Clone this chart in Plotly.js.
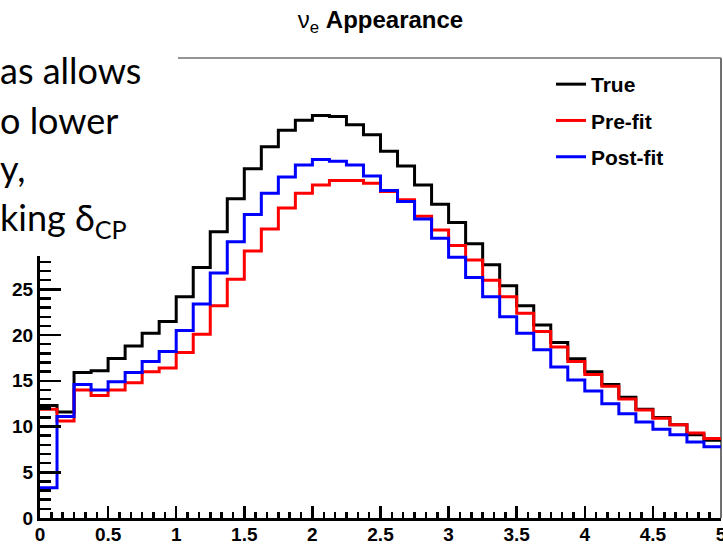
<!DOCTYPE html>
<html>
<head>
<meta charset="utf-8">
<script src="https://cdn.plot.ly/plotly-3.0.1.min.js"></script>
<style>html,body{margin:0;padding:0;background:#fff;}#chart{width:723px;height:545px;}</style>
</head>
<body>
<div id="chart"></div>
<script>
// Histogram: 40 bins of width 0.125 from 0 to 5
const binLow = 0;
const binWidth = 0.125;
const nBins = 40;

const seriesNames = ["True", "Pre-fit", "Post-fit"];
const seriesColors = ["#000000", "#ff0000", "#0000ff"];

const trueVals = [12.3, 11.6, 15.9, 16.1, 17.45, 18.8, 20.2, 21.5, 24.2, 27.4,
                  31.3, 34.9, 38.2, 40.6, 42.4, 43.5, 44.0, 43.9, 43.0, 41.9,
                  40.1, 38.5, 36.4, 34.3, 32.3, 30.0, 27.7, 25.4, 23.2, 21.1,
                  19.2, 17.4, 16.0, 14.6, 13.2, 11.9, 11.0, 10.2, 9.1, 8.5];
const prefitVals = [11.9, 10.6, 14.0, 13.4, 14.0, 14.8, 16.0, 16.4, 18.1, 20.1,
                    23.2, 26.1, 29.2, 31.6, 33.9, 35.5, 36.4, 36.9, 36.9, 36.6,
                    35.7, 34.8, 33.0, 31.5, 29.8, 28.2, 26.0, 24.2, 22.4, 20.4,
                    18.7, 17.1, 15.7, 14.4, 13.0, 11.8, 10.9, 10.2, 9.3, 8.7];
const postfitVals = [3.3, 11.1, 14.6, 14.0, 14.9, 15.9, 17.1, 18.2, 20.5, 23.4,
                     26.8, 30.2, 33.2, 35.5, 37.3, 38.6, 39.2, 39.0, 38.6, 37.4,
                     35.8, 34.6, 32.7, 30.6, 28.5, 26.3, 24.2, 22.0, 20.2, 18.4,
                     16.5, 15.1, 13.9, 12.5, 11.4, 10.5, 9.7, 9.1, 8.3, 7.8];

const xTickVals = [0, 0.5, 1, 1.5, 2, 2.5, 3, 3.5, 4, 4.5, 5];
const xTickText = ["0", "0.5", "1", "1.5", "2", "2.5", "3", "3.5", "4", "4.5", "5"];
// labels above 25 are hidden behind the slide text box in the reference
const yTickVals = [0, 5, 10, 15, 20, 25, 30, 35, 40, 45, 50];
const yTickText = ["0", "5", "10", "15", "20", "25", "", "", "", "", ""];

const titleText = "ν<sub>e</sub> <b>Appearance</b>";
const overlayLines = ["as allows", "o lower", "y,", "king δ<sub>CP</sub>"];

// bin edges
const edges = [];
for (let i = 0; i <= nBins; i++) edges.push(binLow + i * binWidth);

function stepTrace(vals, name, color, group) {
  return {
    type: "scatter", mode: "lines",
    x: edges, y: vals.concat([vals[vals.length - 1]]),
    line: {shape: "hv", color: color, width: 3},
    name: name, legendgroup: group
  };
}
const data = [
  stepTrace(trueVals, seriesNames[0], seriesColors[0], "g1"),
  stepTrace(prefitVals, seriesNames[1], seriesColors[1], "g2"),
  stepTrace(postfitVals, seriesNames[2], seriesColors[2], "g3")
];

const L = 40, R = 2, T = 58, B = 27;
const W = 723, H = 545;
const pw = W - L - R, ph = H - T - B;
function px2x(p) { return (p - L) / pw; }
function py2y(p) { return (H - B - p) / ph; }

const tickFont = {family: "Liberation Sans, Arial, sans-serif", size: 19, color: "#000", weight: "bold"};

const annotations = overlayLines.map((t, i) => ({
  xref: "paper", yref: "paper",
  x: px2x(-1), y: py2y([70, 120, 168, 219][i]),
  xanchor: "left", yanchor: "middle",
  text: t, showarrow: false,
  font: {family: "Lato, 'Open Sans', sans-serif", size: 36, color: "#000"},
  borderpad: 0
}));

const layout = {
  width: W, height: H,
  margin: {l: L, r: R, t: T, b: B},
  paper_bgcolor: "#fff", plot_bgcolor: "#fff",
  showlegend: true,
  title: {
    text: titleText,
    font: {family: "Liberation Sans, Arial, sans-serif", size: 24, color: "#000"},
    x: 0.5, xref: "paper", xanchor: "center",
    y: 1 - 20 / H, yref: "container", yanchor: "middle"
  },
  xaxis: {
    range: [0, 5], showgrid: false, zeroline: false,
    tickmode: "array", tickvals: xTickVals, ticktext: xTickText,
    ticks: "inside", ticklen: 12, tickwidth: 2.5, tickcolor: "#000",
    showline: true, linewidth: 3, linecolor: "#000",
    tickfont: tickFont, ticklabeloverflow: "allow", ticklabelstandoff: -3,
    minor: {dtick: 1 / 12, ticks: "inside", ticklen: 6, tickwidth: 2.5, tickcolor: "#000", showgrid: false}
  },
  yaxis: {
    range: [0, 50.3], showgrid: false, zeroline: false,
    tickmode: "array", tickvals: yTickVals, ticktext: yTickText,
    ticks: "inside", ticklen: 21, tickwidth: 2.5, tickcolor: "#000",
    showline: true, linewidth: 3, linecolor: "#000",
    tickfont: tickFont, ticklabeloverflow: "allow",
    minor: {dtick: 1, ticks: "inside", ticklen: 11, tickwidth: 2.5, tickcolor: "#000", showgrid: false}
  },
  legend: {
    x: px2x(551), y: py2y(64), xanchor: "left", yanchor: "top",
    bgcolor: "rgba(0,0,0,0)", borderwidth: 0,
    traceorder: "grouped", tracegroupgap: 6,
    font: {family: "Liberation Sans, Arial, sans-serif", size: 21, color: "#000", weight: "bold"}
  },
  shapes: [
    {type: "line", xref: "paper", yref: "paper", x0: 0, x1: 1, y0: 1, y1: 1,
     line: {color: "#707070", width: 1.5}, layer: "below"},
    {type: "line", xref: "paper", yref: "paper", x0: 1, x1: 1, y0: 0, y1: 1,
     line: {color: "#707070", width: 2}, layer: "below"},
    {type: "rect", xref: "paper", yref: "paper",
     x0: px2x(-5), x1: px2x(178), y0: py2y(256), y1: py2y(-5),
     fillcolor: "#ffffff", line: {width: 0}, layer: "above"}
  ],
  annotations: annotations
};

Plotly.newPlot("chart", data, layout, {displayModeBar: false, staticPlot: true});
</script>
</body>
</html>
